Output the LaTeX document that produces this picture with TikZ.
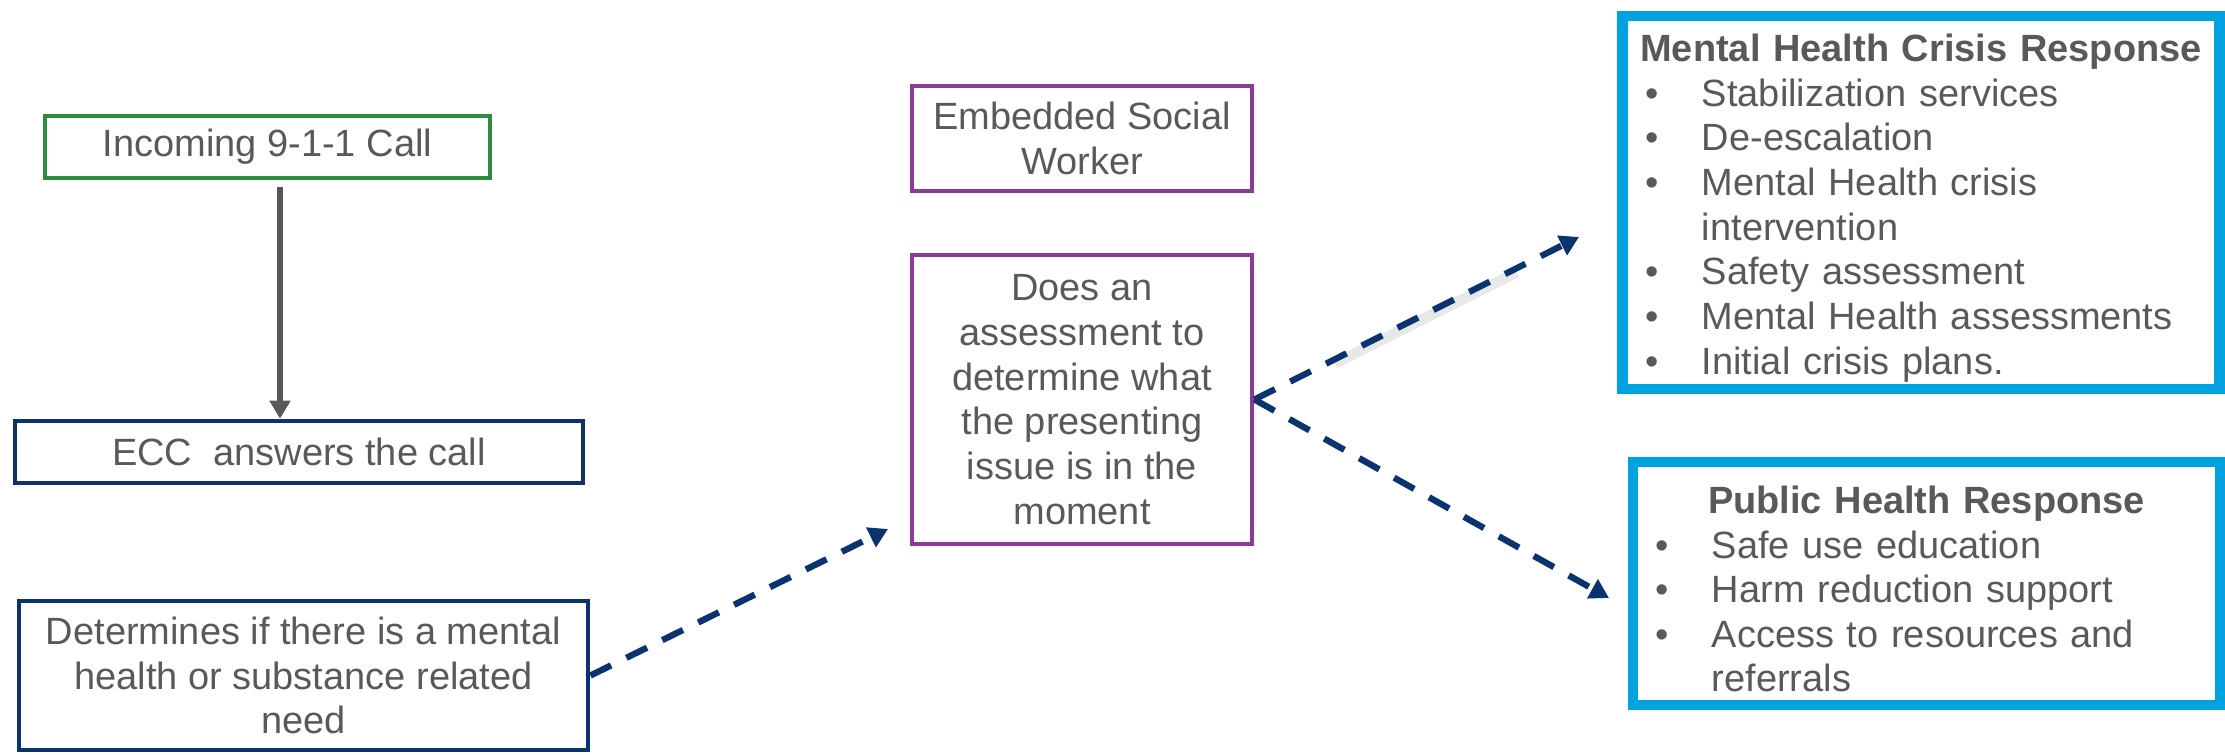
\documentclass[tikz,border=0pt]{standalone}
\usepackage{fontspec}
\setmainfont{Liberation Sans}
\usetikzlibrary{arrows.meta}

\definecolor{txtgray}{HTML}{595959}
\definecolor{callgreen}{HTML}{2E8B40}
\definecolor{eccblue}{HTML}{0B3370}
\definecolor{swpurple}{HTML}{8B3A98}
\definecolor{respblue}{HTML}{00A3E0}

\newcommand{\blt}{\makebox[0.56cm][l]{\textbullet}}

\begin{document}
\begin{tikzpicture}[x=0.01cm,y=-0.01cm,
    font=\fontsize{10.8}{12.7}\selectfont, text=txtgray,
    box/.style={draw, line width=1.3pt, inner sep=0pt, align=center},
    resp/.style={draw=respblue, line width=3pt, inner sep=0pt, align=left},
    dasharrow/.style={draw=eccblue, line width=1.8pt, dash pattern=on 0.23cm off 0.17cm,
        -{Triangle[length=0.19cm,width=0.21cm]}}]

            \useasboundingbox (0,0) rectangle (2225,754);

            %left column
            \node[box, draw=callgreen, minimum width=4.45cm, minimum height=0.62cm] (call) at (267.5,147) {Incoming 9-1-1 Call};

            \node[box, draw=eccblue, minimum width=5.68cm, minimum height=0.62cm] (ecc) at (299,452) {ECC\ \ answers the call};

            \node[box, draw=eccblue, minimum width=5.69cm, minimum height=1.49cm] (need) at (303.5,675.5) {Determines if there is a mental\\health or substance related\\need};

            \draw[draw=txtgray, line width=1.6pt, shorten <=0.07cm, -{Triangle[length=0.18cm,width=0.2cm]}] ([xshift=0.125cm]call.south) -- ([xshift=0.125cm]call.south |- ecc.north);

            %social worker
            \node[box, draw=swpurple, minimum width=3.40cm, minimum height=1.05cm] (sw) at (1082,138.5) {Embedded Social\\Worker};

            \node[box, draw=swpurple, minimum width=3.40cm, minimum height=2.89cm] (assess) at (1082,399.5) {Does an\\assessment to\\determine what\\the presenting\\issue is in the\\moment};

            %responses
            \node[resp, minimum width=5.97cm, minimum height=3.73cm, text width=5.5cm] (crisis) at (1921,202.5) {\rule{0pt}{11pt}\makebox[\linewidth]{\bfseries Mental Health Crisis Response}\\
                \blt Stabilization services\\
                \blt De-escalation\\
                \blt Mental Health crisis\\
                \hspace*{0.56cm}intervention\\
                \blt Safety assessment\\
                \blt Mental Health assessments\\
                \blt Initial crisis plans.};

            \node[resp, minimum width=5.87cm, minimum height=2.43cm, text width=5.41cm] (public) at (1926.5,583.5) {\rule{0pt}{11pt}\makebox[\linewidth]{\bfseries Public Health Response}\\
                \blt Safe use education\\
                \blt Harm reduction support\\
                \blt Access to resources and\\
                \hspace*{0.56cm}referrals};

            %dashed arrows
            \coordinate (assesstip) at (888,529);

            \coordinate (crisistip) at (1579,237);

            \coordinate (publictip) at (1609,598);

            \draw[draw=gray!30, line width=3pt, opacity=0.6, shorten <=0.9cm, shorten >=0.7cm, transform canvas={yshift=-0.04cm}] (assess.east) -- (crisistip);

            \draw[dasharrow] (need.east) -- (assesstip);

            \draw[dasharrow] (assess.east) -- (crisistip);

            \draw[dasharrow] (assess.east) -- (publictip);
        \end{tikzpicture}
\end{document}
